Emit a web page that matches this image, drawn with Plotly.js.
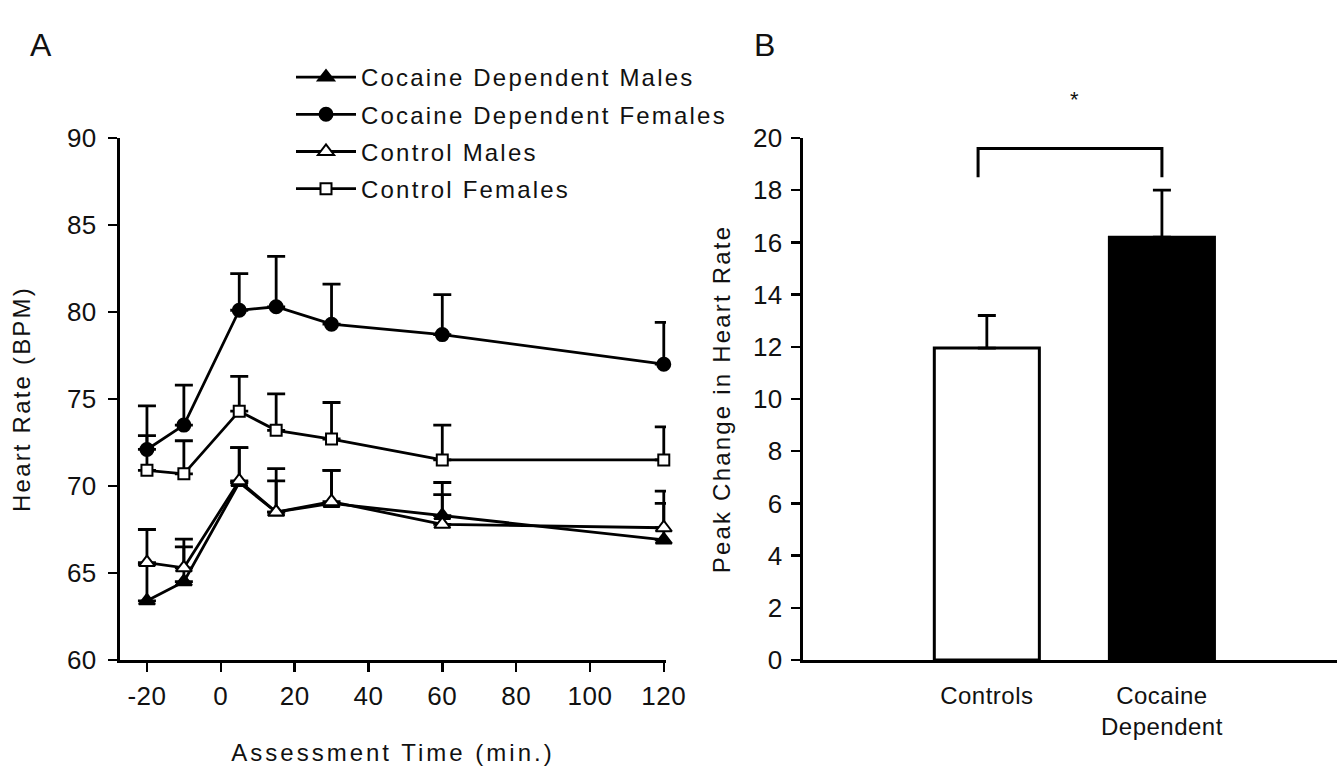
<!DOCTYPE html>
<html>
<head>
<meta charset="utf-8">
<script src="https://cdn.plot.ly/plotly-3.0.1.min.js"></script>
<style>
html,body{margin:0;padding:0;background:#fff;}
#chart{width:1344px;height:771px;}
text{letter-spacing:0.5px;}
.legendtext,.ytitle,.x2title,.y2title{letter-spacing:2.2px;}
.xtitle{letter-spacing:3px;}
</style>
</head>
<body>
<div id="chart"></div>
<script>
// ---- Panel A data ----
const times = [-20, -10, 5, 15, 30, 60, 120];
const timeTicks = [-20, 0, 20, 40, 60, 80, 100, 120];
const timeTickText = ["-20", "0", "20", "40", "60", "80", "100", "120"];
const hrTicks = [60, 65, 70, 75, 80, 85, 90];
const cdMales = [63.4, 64.5, 70.2, 68.5, 69.0, 68.3, 66.9];
const cdMalesErr = [2.1, 2.0, 2.0, 1.8, 1.9, 1.2, 2.1];
const cdFemales = [72.1, 73.5, 80.1, 80.3, 79.3, 78.7, 77.0];
const cdFemalesErr = [2.5, 2.3, 2.1, 2.9, 2.3, 2.3, 2.4];
const ctrlMales = [65.6, 65.3, 70.3, 68.5, 69.1, 67.8, 67.6];
const ctrlMalesErr = [1.9, 1.65, 1.9, 2.5, 1.8, 2.4, 2.1];
const ctrlFemales = [70.9, 70.7, 74.3, 73.2, 72.7, 71.5, 71.5];
const ctrlFemalesErr = [2.0, 1.9, 2.0, 2.1, 2.1, 2.0, 1.9];
const seriesNames = ["Cocaine Dependent Males", "Cocaine Dependent Females", "Control Males", "Control Females"];

// ---- Panel B data ----
const groups = ["Controls", "Cocaine<br>Dependent"];
const peakChange = [11.95, 16.2];
const peakErr = [1.25, 1.8];
const peakTicks = [0, 2, 4, 6, 8, 10, 12, 14, 16, 18, 20];
const bracketTop = 19.6;
const bracketFoot = 18.5;
const sigLabel = "*";

const FONT = "Liberation Sans, Arial, sans-serif";
const TXT = "#111";
const zeros = times.map(() => 0);

function lineTrace(name, y, err, symbol, fill, size) {
  return {
    type: "scatter", mode: "lines+markers", name: name,
    x: times, y: y, xaxis: "x", yaxis: "y",
    legendgroup: name,
    line: {color: "#000", width: 2.8},
    marker: {symbol: symbol, size: size, color: fill, line: {color: "#000", width: 2}},
    error_y: {type: "data", symmetric: false, array: err, arrayminus: zeros,
              color: "#000", thickness: 2.8, width: 9},
    cliponaxis: false
  };
}

const traces = [
  lineTrace(seriesNames[0], cdMales, cdMalesErr, "triangle-up", "#000", 14),
  lineTrace(seriesNames[1], cdFemales, cdFemalesErr, "circle", "#000", 13),
  lineTrace(seriesNames[2], ctrlMales, ctrlMalesErr, "triangle-up", "#fff", 14),
  lineTrace(seriesNames[3], ctrlFemales, ctrlFemalesErr, "square", "#fff", 11),
  {
    type: "bar", x: [0, 1], y: peakChange, xaxis: "x2", yaxis: "y2",
    width: 0.6, showlegend: false,
    marker: {color: ["#fff", "#000"], line: {color: "#000", width: 3}},
    error_y: {type: "data", symmetric: false, array: peakErr, arrayminus: [0, 0],
              color: "#000", thickness: 2.8, width: 9}
  },
  {
    type: "scatter", mode: "lines", xaxis: "x2", yaxis: "y2", showlegend: false,
    x: [-0.05, -0.05, 1.0, 1.0], y: [bracketFoot, bracketTop, bracketTop, bracketFoot],
    line: {color: "#000", width: 3}, hoverinfo: "skip"
  }
];

const axisCommon = {
  showline: true, linecolor: "#000", linewidth: 3, showgrid: false, zeroline: false,
  ticks: "outside", ticklen: 9, tickwidth: 2.5, tickcolor: "#000",
  tickfont: {family: FONT, size: 26, color: TXT}
};
const titleFont = {family: FONT, size: 24, color: TXT};

const layout = {
  width: 1344, height: 771,
  margin: {l: 0, r: 0, t: 0, b: 0},
  paper_bgcolor: "#fff", plot_bgcolor: "#fff",
  font: {family: FONT, color: TXT},
  showlegend: true,
  legend: {
    x: 291/1344, xanchor: "left", y: 1 - 55/771, yanchor: "top",
    font: {family: FONT, size: 24, color: TXT},
    traceorder: "grouped", tracegroupgap: 3, itemwidth: 60,
    bgcolor: "rgba(0,0,0,0)"
  },
  xaxis: Object.assign({}, axisCommon, {
    domain: [120/1344, 666/1344], range: [-27.3, 120.6], anchor: "y",
    tickvals: timeTicks, ticktext: timeTickText, ticklabelstandoff: 2,
    title: {text: "Assessment Time (min.)", font: titleFont, standoff: 34}
  }),
  yaxis: Object.assign({}, axisCommon, {
    domain: [111/771, 633/771], range: [60, 90], anchor: "x",
    tickvals: hrTicks, ticklabelstandoff: 6,
    title: {text: "Heart Rate (BPM)", font: titleFont, standoff: 30}
  }),
  xaxis2: Object.assign({}, axisCommon, {
    domain: [803/1344, 1337/1344], range: [-1.05, 2.0], anchor: "y2",
    ticks: "", tickvals: [0, 1], ticktext: groups, ticklabelstandoff: 12,
    tickfont: {family: FONT, size: 24, color: TXT}
  }),
  yaxis2: Object.assign({}, axisCommon, {
    domain: [111/771, 633/771], range: [0, 20], anchor: "x2",
    tickvals: peakTicks, ticklabelstandoff: 3,
    title: {text: "Peak Change in Heart Rate", font: titleFont, standoff: 16}
  }),
  annotations: [
    {text: "A", xref: "paper", yref: "paper", x: 41/1344, y: 1 - 45/771, xanchor: "center", yanchor: "middle",
     showarrow: false, font: {family: FONT, size: 32, color: TXT}},
    {text: "B", xref: "paper", yref: "paper", x: 765/1344, y: 1 - 45/771, xanchor: "center", yanchor: "middle",
     showarrow: false, font: {family: FONT, size: 32, color: TXT}},
    {text: sigLabel, xref: "x2", yref: "y2 domain", x: 0.5, y: 1.073, xanchor: "center", yanchor: "middle",
     showarrow: false, font: {family: FONT, size: 22, color: TXT}}
  ]
};

Plotly.newPlot("chart", traces, layout, {displayModeBar: false, staticPlot: true});
</script>
</body>
</html>
